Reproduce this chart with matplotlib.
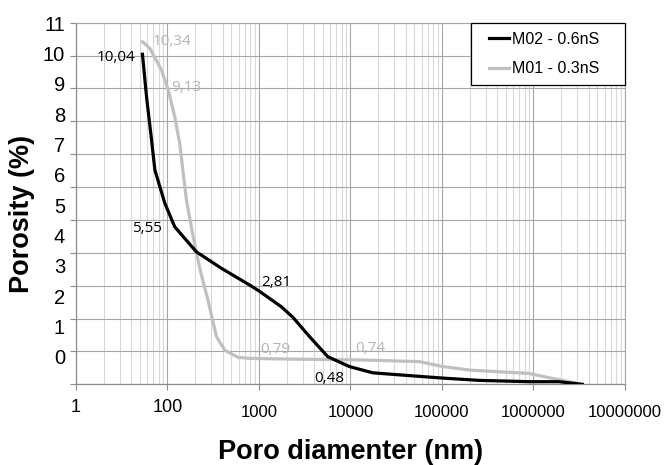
import matplotlib.pyplot as plt
from matplotlib import transforms
from matplotlib.lines import Line2D
from matplotlib.legend_handler import HandlerLine2D

# pore diameter (nm) / porosity (%)
m02_d = [53.3, 59, 67, 72.8, 93.5, 120, 207, 388, 520, 791, 1000, 1754, 2346,
         3570, 5650, 9750, 17500, 37200, 101600, 255000, 897000, 1900000, 3420000]
m02_p = [10.04, 8.75, 7.43, 6.52, 5.51, 4.79, 4.03, 3.53, 3.32, 3.02, 2.84, 2.36, 2.04,
         1.45, 0.84, 0.54, 0.35, 0.28, 0.19, 0.12, 0.08, 0.08, 0.0]
m01_d = [53.4, 64.1, 86, 102, 120, 136, 161, 191, 225, 277, 343, 422, 589, 791,
         1905, 13600, 56600, 101600, 207000, 897000, 1610000, 3420000]
m01_p = [10.42, 10.22, 9.56, 8.95, 8.14, 7.33, 5.61, 4.49, 3.53, 2.56, 1.45, 1.04, 0.82, 0.79,
         0.77, 0.74, 0.69, 0.54, 0.43, 0.33, 0.18, 0.0]

# data labels (text, x, y)
m02_lab = [("10,04", 27.2, 9.99), ("5,55", 59.6, 4.79), ("2,81", 1545, 3.17), ("0,48", 5900, 0.23)]
m01_lab = [("10,34", 113.5, 10.5), ("9,13", 161.4, 9.08), ("0,79", 1500, 1.11), ("0,74", 16330, 1.14)]

x_ticks = [10, 100, 1000, 10000, 100000, 1000000, 10000000]
x_labels = ["1", "100", "1000", "10000", "100000", "1000000", "10000000"]
y_labels = [str(i) for i in range(12)]

BLACK = "#000000"
GREY = "#c0c0c0"
GREY_TXT = "#b4b4b4"
GRID = "#a6a6a6"
MINOR = "#d9d9d9"
AXC = "#8c8c8c"
FONT = "Liberation Sans"

fig = plt.figure(figsize=(6.7, 4.65), dpi=100)
ax = fig.add_axes([0.1134, 0.1735, 0.8194, 0.7777])

ax.plot(m02_d, m02_p, color=BLACK, lw=2.3, label="M02 - 0.6nS", zorder=4)
ax.plot(m01_d, m01_p, color=GREY, lw=2.3, label="M01 - 0.3nS", zorder=3)

ax.set_xscale("log")
ax.set_xlim(10, 1e7)
ax.set_ylim(0, 11)
ax.set_yticks(range(12))
ax.set_xticks(x_ticks)
ax.set_xticklabels(x_labels, fontsize=12, family=FONT)

ax.grid(which="major", color=GRID, lw=0.8)
ax.grid(which="minor", axis="x", color=MINOR, lw=0.8)
ax.set_axisbelow(True)
ax.tick_params(axis="y", labelleft=False, length=4, color=AXC, width=0.8)
ax.tick_params(axis="x", which="major", length=4, color=AXC, width=0.8, pad=11)
ax.tick_params(axis="x", which="minor", length=0)
for s in ["left", "bottom"]:
    ax.spines[s].set_color(AXC)
    ax.spines[s].set_linewidth(0.9)
for s in ["top", "right"]:
    ax.spines[s].set_color(GRID)
    ax.spines[s].set_linewidth(0.8)

# first two x labels sit a bit higher in the original
up = transforms.ScaledTranslation(0, 6.5 / 100, fig.dpi_scale_trans)
for lab in ax.get_xticklabels()[:2]:
    lab.set_transform(lab.get_transform() + up)
    lab.set_fontsize(13)

# y labels are spaced differently from the gridlines in the original
ytrans = transforms.blended_transform_factory(ax.transAxes, ax.transData)
for k, lab in enumerate(y_labels):
    ax.text(-0.02, 0.832 + 0.9234 * k, lab, transform=ytrans, ha="right",
            va="center_baseline", fontsize=14.5, family=FONT)

for t, x, y in m02_lab:
    ax.text(x, y, t, color=BLACK, fontsize=11, family="Open Sans", ha="center",
            va="center_baseline", zorder=5)
for t, x, y in m01_lab:
    ax.text(x, y, t, color=GREY_TXT, fontsize=11, family="Open Sans", ha="center",
            va="center_baseline", zorder=5)

ax.set_xlabel("Poro diamenter (nm)", fontsize=19.5, weight="bold", family=FONT)
ax.set_ylabel("Porosity (%)", fontsize=19.5, weight="bold", family=FONT)
ax.xaxis.set_label_coords(0.5, -0.15)
ax.yaxis.set_label_coords(-0.075, 0.47)

lw, lh = 154 / 549, 66.6 / 361.6
leg = ax.legend(loc="upper right", bbox_to_anchor=(1 - lw, 1 - lh, lw, lh), mode="expand",
                borderaxespad=0, prop={"family": FONT, "size": 11.5},
                fancybox=False, framealpha=1, edgecolor="black",
                borderpad=0.57, labelspacing=0.9, handlelength=1.8, handletextpad=0.2,
                handler_map={Line2D: HandlerLine2D(xpad=0.55)})
leg.get_frame().set_linewidth(0.9)
leg.set_zorder(6)

fig.savefig("out.png", dpi=100)
